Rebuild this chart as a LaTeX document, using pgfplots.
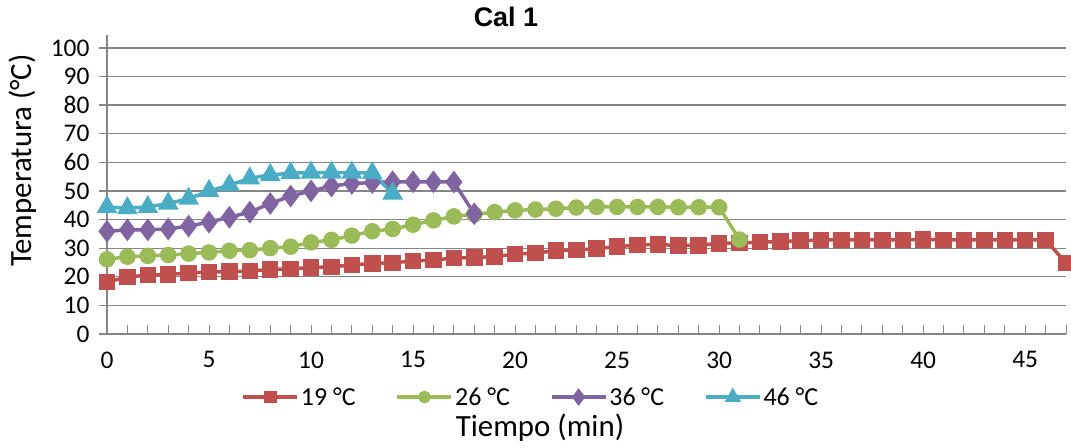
\documentclass[border=0pt]{standalone}
\usepackage{fontspec}
\setmainfont{Carlito}
\newfontfamily\arialfont{Liberation Sans}
\usepackage{pgfplots}
\pgfplotsset{compat=1.18}
\definecolor{cred}{HTML}{C0504D}
\definecolor{cgreen}{HTML}{9BBB59}
\definecolor{cpurple}{HTML}{8064A2}
\definecolor{ccyan}{HTML}{4BACC6}
\definecolor{cgrid}{HTML}{868686}
\begin{document}
\begin{tikzpicture}
\path[use as bounding box] (0,0) rectangle (1071bp,448bp);
\begin{axis}[
  at={(107bp,114bp)}, anchor=south west,
  scale only axis, width=959bp, height=299bp,
  xmin=0, xmax=47, ymin=0, ymax=104.5,
  axis x line=bottom, axis y line=left,
  axis line style={-, cgrid, line width=1.3bp},
  xtick={0,5,...,45}, minor xtick={0,1,...,47},
  ytick={0,10,...,100},
  ymajorgrids, major grid style={cgrid, line width=1.3bp},
  x tick style={cgrid, line width=1bp},
  y tick style={cgrid, line width=1.3bp},
  xtick align=inside, ytick align=outside,
  major tick length=8bp, minor tick length=9bp,
  /pgf/number format/assume math mode=true,
  ticklabel style={font=\fontsize{25.5}{30}\selectfont, text=black},
  xticklabel style={yshift=-14bp},
  yticklabel style={xshift=-6bp},
  xlabel={Tiempo (min)}, ylabel={Temperatura (°C)},
  label style={font=\fontsize{31}{36}\selectfont},
  xlabel style={at={(axis description cs:0.4515,-0.314)}, anchor=center},
  ylabel style={at={(axis description cs:-0.088,0.58)}, anchor=center},
  title={Cal 1},
  title style={at={(axis description cs:0.416,1.04)}, anchor=center, font=\arialfont\bfseries\fontsize{27}{32}\selectfont},
  legend columns=4,
  legend style={at={(axis description cs:0.442,-0.211)}, anchor=center, draw=none, fill=none,
    font=\fontsize{26}{30}\selectfont, /tikz/every even column/.append style={column sep=38bp}},
  legend image code/.code={\draw[mark repeat=2,mark phase=2,mark options={scale=0.7}] plot coordinates {(0bp,0bp) (27bp,0bp) (54bp,0bp)};},
  every axis plot/.append style={line width=3.5bp, mark options={solid}},
]
\addplot[cred, mark=square*, mark size=6.5bp] coordinates {
(0,18.2)(1,19.9)(2,20.6)(3,20.8)(4,21.3)(5,21.7)(6,21.8)(7,22.0)(8,22.6)(9,22.8)
(10,23.2)(11,23.5)(12,24.1)(13,24.7)(14,24.9)(15,25.5)(16,25.9)(17,26.5)(18,26.7)(19,27.1)
(20,27.9)(21,28.3)(22,29.1)(23,29.3)(24,29.9)(25,30.5)(26,31.1)(27,31.3)(28,30.9)(29,31.0)
(30,31.7)(31,31.8)(32,32.1)(33,32.3)(34,32.6)(35,32.9)(36,32.9)(37,32.9)(38,32.9)(39,32.9)
(40,33.0)(41,32.9)(42,32.9)(43,32.9)(44,32.9)(45,32.9)(46,32.9)(47,24.8)};
\addlegendentry{19 °C}
\addplot[cgreen, mark=*, mark size=6.5bp] coordinates {
(0,26.1)(1,27.0)(2,27.3)(3,27.6)(4,28.1)(5,28.5)(6,29.1)(7,29.3)(8,30.0)(9,30.5)
(10,32.0)(11,32.9)(12,34.4)(13,35.9)(14,36.7)(15,38.2)(16,39.7)(17,41.1)(18,41.8)(19,42.6)
(20,43.2)(21,43.5)(22,43.8)(23,44.2)(24,44.4)(25,44.4)(26,44.4)(27,44.4)(28,44.3)(29,44.3)
(30,44.3)(31,33.0)};
\addlegendentry{26 °C}
\addplot[cpurple, mark=diamond*, mark size=8.5bp] coordinates {
(0,35.9)(1,36.4)(2,36.4)(3,36.7)(4,37.7)(5,39.1)(6,40.8)(7,42.6)(8,45.6)(9,48.2)
(10,50.0)(11,51.7)(12,52.6)(13,52.9)(14,53.2)(15,53.2)(16,53.2)(17,53.1)(18,42.0)};
\addlegendentry{36 °C}
\addplot[ccyan, mark=triangle*, mark size=8.5bp] coordinates {
(0,44.4)(1,44.0)(2,44.4)(3,45.6)(4,47.3)(5,50.0)(6,52.0)(7,54.4)(8,55.6)(9,56.2)
(10,56.4)(11,56.4)(12,56.4)(13,56.2)(14,49.1)};
\addlegendentry{46 °C}
\end{axis}
\end{tikzpicture}
\end{document}
